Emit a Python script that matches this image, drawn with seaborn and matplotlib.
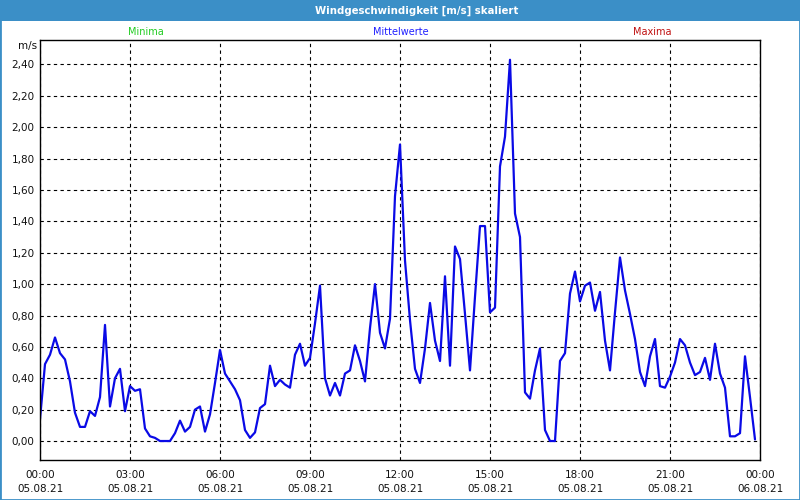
import numpy as np
import pandas as pd
import matplotlib
matplotlib.use("Agg")
import matplotlib.pyplot as plt
import matplotlib.dates as mdates
from matplotlib.ticker import FuncFormatter, FixedLocator
from matplotlib.patches import Rectangle
import seaborn as sns

# ---- data (10-minute means, 05.08.21 00:00 .. 23:50) ----
start_time = "2021-08-05 00:00"
interval = "10min"
wind_00_06 = [0.14, 0.49, 0.55, 0.66, 0.56, 0.52, 0.38, 0.18, 0.09, 0.09, 0.19, 0.16,
              0.28, 0.74, 0.22, 0.40, 0.46, 0.19, 0.35, 0.32, 0.33, 0.08, 0.03, 0.02,
              0.00, 0.00, 0.00, 0.05, 0.13, 0.06, 0.09, 0.20, 0.22, 0.06, 0.17, 0.37]
wind_06_12 = [0.58, 0.43, 0.38, 0.33, 0.26, 0.07, 0.02, 0.055, 0.21, 0.235, 0.48, 0.35,
              0.39, 0.36, 0.34, 0.55, 0.62, 0.48, 0.53, 0.75, 0.99, 0.40, 0.29, 0.37,
              0.29, 0.43, 0.45, 0.61, 0.51, 0.38, 0.72, 1.00, 0.69, 0.59, 0.78, 1.56]
wind_12_18 = [1.89, 1.15, 0.77, 0.46, 0.37, 0.59, 0.88, 0.64, 0.51, 1.05, 0.48, 1.24,
              1.16, 0.81, 0.45, 0.92, 1.37, 1.37, 0.82, 0.85, 1.75, 1.94, 2.43, 1.45,
              1.30, 0.31, 0.27, 0.45, 0.59, 0.07, 0.00, 0.00, 0.51, 0.56, 0.94, 1.08]
wind_18_24 = [0.89, 0.99, 1.01, 0.83, 0.95, 0.64, 0.45, 0.82, 1.17, 0.96, 0.81, 0.65,
              0.44, 0.35, 0.54, 0.65, 0.35, 0.34, 0.41, 0.50, 0.65, 0.61, 0.50, 0.42,
              0.44, 0.53, 0.39, 0.62, 0.43, 0.34, 0.03, 0.03, 0.05, 0.54, 0.28, 0.01]
y_ticks = [0.0, 0.2, 0.4, 0.6, 0.8, 1.0, 1.2, 1.4, 1.6, 1.8, 2.0, 2.2, 2.4]
title = "Windgeschwindigkeit [m/s] skaliert"
legend_labels = ["Minima", "Mittelwerte", "Maxima"]
unit_label = "m/s"

values = wind_00_06 + wind_06_12 + wind_12_18 + wind_18_24
times = pd.date_range(start_time, periods=len(values), freq=interval)
df = pd.DataFrame({"time": times, "value": values})

# ---- style ----
sns.set_style("white")
plt.rcParams["font.family"] = ["DejaVu Sans"]

W, H = 800, 500
fig = plt.figure(figsize=(W / 100, H / 100), dpi=100)
fig.patch.set_facecolor("white")
ax = fig.add_axes([40 / W, 40 / H, 720 / W, 420 / H])
ax.set_facecolor("white")

sns.lineplot(data=df, x="time", y="value", ax=ax, color="#0a0ae6", linewidth=1.6)

ax.set_xlim(pd.Timestamp("2021-08-05 00:00"), pd.Timestamp("2021-08-06 00:00"))
ax.set_ylim(-0.121, 2.556)
ax.set_xlabel("")
ax.set_ylabel("")

ax.yaxis.set_major_locator(FixedLocator(y_ticks))
ax.yaxis.set_major_formatter(FuncFormatter(lambda v, _: f"{v:.2f}".replace(".", ",")))
ax.xaxis.set_major_locator(mdates.HourLocator(byhour=range(0, 24, 3)))
ax.xaxis.set_minor_locator(mdates.HourLocator())
ax.xaxis.set_major_formatter(mdates.DateFormatter("%H:%M\n%d.%m.%y"))

ax.grid(True, which="major", color="black", linestyle=(0, (3, 3)), linewidth=0.8)
ax.grid(False, which="minor")
for sp in ax.spines.values():
    sp.set_visible(True)
    sp.set_color("black")
    sp.set_linewidth(1.0)

ax.tick_params(axis="y", which="both", length=0, pad=4, labelsize=7.5, labelcolor="#111111")
ax.tick_params(axis="x", which="major", direction="out", length=4, width=0.8,
               color="black", pad=3, labelsize=7.5, labelcolor="#111111")
ax.tick_params(axis="x", which="minor", direction="out", length=3, width=0.8, color="black")

# ---- title bar, labels, frame ----
fig.add_artist(Rectangle((0, 1 - 21 / H), 1, 21 / H, transform=fig.transFigure,
                         facecolor="#3b8fc7", edgecolor="none", zorder=0))
fig.text(417 / W, 1 - 10.5 / H, title, color="white", fontsize=7.3, fontweight="bold",
         ha="center", va="center")
label_colors = ["#22cc22", "#2020ff", "#c01010"]
label_x = [146, 401, 652]
for lab, col, xx in zip(legend_labels, label_colors, label_x):
    fig.text(xx / W, 1 - 32 / H, lab, color=col, fontsize=7, ha="center", va="center")
fig.text(37 / W, 1 - 46 / H, unit_label, color="#111111", fontsize=7.5, ha="right", va="center")
fig.add_artist(Rectangle((0, 0), 1, 1, transform=fig.transFigure, fill=False,
                         edgecolor="#3b8fc7", linewidth=2))

fig.canvas.draw()
for lab in ax.get_xticklabels():
    lab.set_linespacing(1.55)

fig.savefig("out.png", dpi=100, facecolor=fig.get_facecolor())
